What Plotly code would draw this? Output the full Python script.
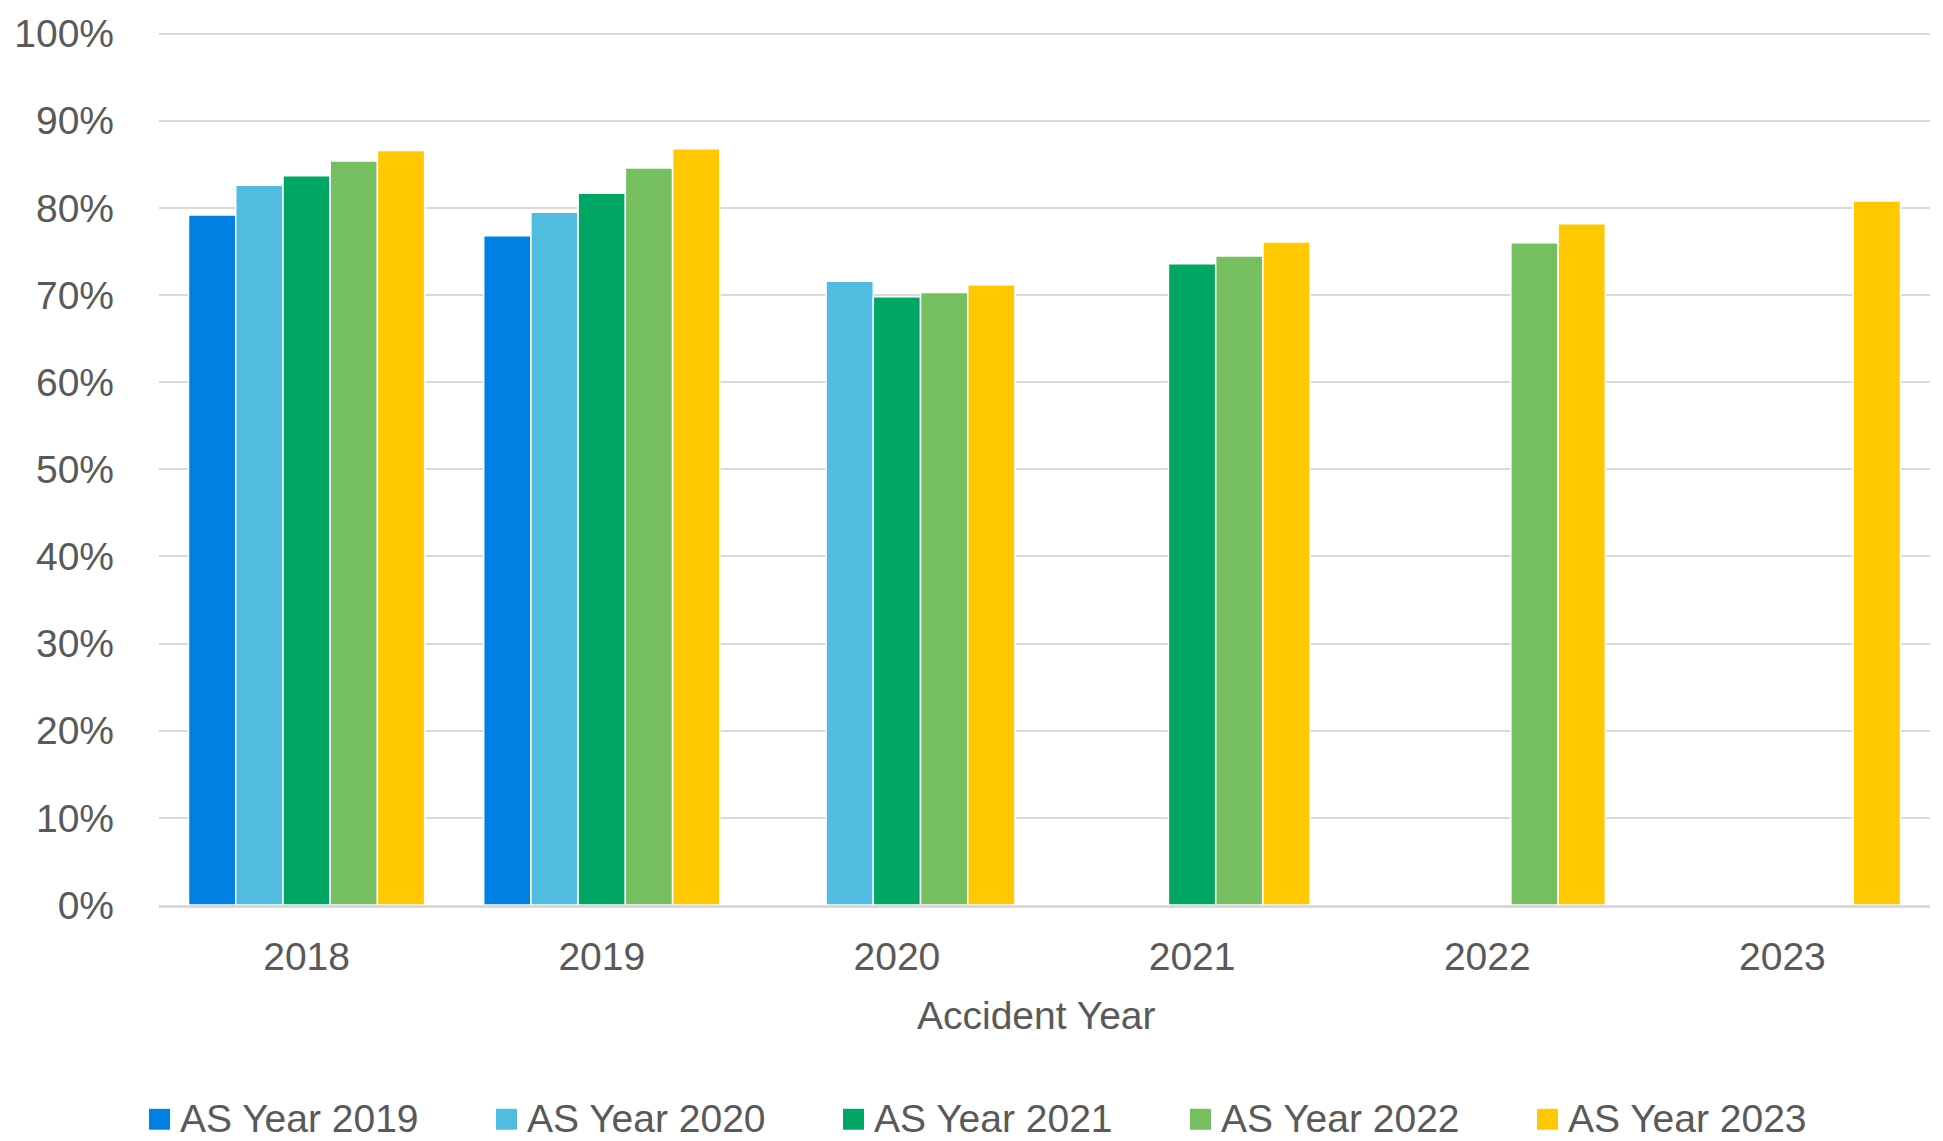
import plotly.graph_objects as go

# Accident years on the category axis
accident_years = ["2018", "2019", "2020", "2021", "2022", "2023"]

# Ratio by accident year, one series per AS year (None = not yet available)
as_year_2019 = [0.792, 0.768, None, None, None, None]
as_year_2020 = [0.826, 0.795, 0.716, None, None, None]
as_year_2021 = [0.837, 0.817, 0.698, 0.736, None, None]
as_year_2022 = [0.854, 0.846, 0.703, 0.745, 0.760, None]
as_year_2023 = [0.866, 0.868, 0.712, 0.761, 0.782, 0.808]

series_names = ["AS Year 2019", "AS Year 2020", "AS Year 2021", "AS Year 2022", "AS Year 2023"]
series_values = [as_year_2019, as_year_2020, as_year_2021, as_year_2022, as_year_2023]
series_colors = ["#0080E2", "#50BDE0", "#00A664", "#75BF61", "#FFC800"]

TEXT = "#595959"
FONT = "Liberation Sans, Arial, sans-serif"

W, H = 1943, 1141
M_L, M_R, M_T, M_B = 159, 13, 22, 236
PLOT_W = W - M_L - M_R
PLOT_H = H - M_T - M_B
Y_TOP = 1.01  # a little headroom so the 100% gridline is drawn


def px_to_paper_x(px):
    return (px - M_L) / PLOT_W


def px_to_paper_y(py):
    return (H - M_B - py) / PLOT_H


fig = go.Figure()
for name, vals, col in zip(series_names, series_values, series_colors):
    fig.add_trace(go.Bar(
        x=accident_years,
        y=vals,
        name=name,
        marker=dict(color=col, line=dict(color="white", width=1.5)),
        hoverinfo="x+y+name",
        showlegend=False,
    ))

# Legend row below the axis title: a square swatch followed by the series name
legend_start = 149
legend_step = 347
swatch = 21
legend_cy = 1120
shapes = []
annotations = []
for i, (name, col) in enumerate(zip(series_names, series_colors)):
    x0 = legend_start + i * legend_step
    shapes.append(dict(
        type="rect", xref="paper", yref="paper",
        x0=px_to_paper_x(x0), x1=px_to_paper_x(x0 + swatch),
        y0=px_to_paper_y(legend_cy + swatch / 2), y1=px_to_paper_y(legend_cy - swatch / 2),
        fillcolor=col, line=dict(width=0),
    ))
    annotations.append(dict(
        text=name, xref="paper", yref="paper",
        x=px_to_paper_x(x0 + swatch + 8), y=px_to_paper_y(legend_cy - 1),
        xanchor="left", yanchor="middle", showarrow=False,
        font=dict(size=39, color=TEXT, family=FONT),
    ))

# x-axis title
annotations.append(dict(
    text="Accident Year", xref="paper", yref="paper",
    x=px_to_paper_x(1036), y=px_to_paper_y(1016),
    xanchor="center", yanchor="middle", showarrow=False,
    font=dict(size=39, color=TEXT, family=FONT),
))

fig.update_layout(
    width=W,
    height=H,
    paper_bgcolor="white",
    plot_bgcolor="white",
    barmode="group",
    bargap=0.2,
    bargroupgap=0,
    margin=dict(l=M_L, r=M_R, t=M_T, b=M_B),
    font=dict(family=FONT, size=39, color=TEXT),
    showlegend=False,
    shapes=shapes,
    annotations=annotations,
    xaxis=dict(
        type="category",
        showgrid=False,
        showline=True,
        linecolor="#D9D9D9",
        linewidth=3,
        ticks="",
        ticklabelstandoff=15,
        tickfont=dict(size=39, color=TEXT),
    ),
    yaxis=dict(
        range=[0, Y_TOP],
        tickvals=[i / 10 for i in range(11)],
        tickformat=".0%",
        showgrid=True,
        gridcolor="#D9D9D9",
        gridwidth=2,
        zeroline=False,
        showline=False,
        ticks="",
        ticklabelstandoff=44,
        tickfont=dict(size=39, color=TEXT),
    ),
)

fig.write_html("out.html")
